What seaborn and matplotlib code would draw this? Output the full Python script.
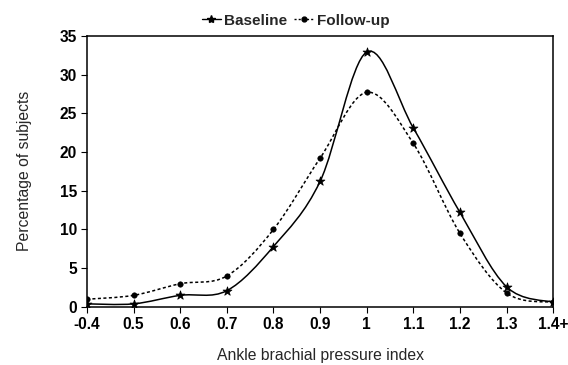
import numpy as np
import pandas as pd
import seaborn as sns
import matplotlib
matplotlib.use("Agg")
import matplotlib.pyplot as plt
from matplotlib.path import Path
from matplotlib.patches import PathPatch
from matplotlib.lines import Line2D

categories = ["-0.4", "0.5", "0.6", "0.7", "0.8", "0.9", "1", "1.1", "1.2", "1.3", "1.4+"]
baseline = [0.4, 0.4, 1.5, 2.1, 7.8, 16.2, 32.9, 23.1, 12.2, 2.6, 0.6]
followup = [1.0, 1.5, 3.0, 4.0, 10.0, 19.2, 27.7, 21.1, 9.5, 1.8, 0.6]
y_ticks = [0, 5, 10, 15, 20, 25, 30, 35]

sns.set_style("ticks")
plt.rcParams["font.family"] = ["Liberation Sans", "DejaVu Sans"]

df = pd.DataFrame({
    "pos": list(range(len(categories))) * 2,
    "value": baseline + followup,
    "series": ["Baseline"] * len(categories) + ["Follow-up"] * len(categories),
})

fig = plt.figure(figsize=(5.68, 3.65), dpi=100)
ax = fig.add_axes([0.153, 0.159, 0.821, 0.743])


def smooth_path(xs, ys):
    pts = np.column_stack([xs, ys]).astype(float)
    n = len(pts)
    verts = [pts[0]]
    codes = [Path.MOVETO]
    for i in range(n - 1):
        p0 = pts[i - 1] if i > 0 else pts[i]
        p1 = pts[i]
        p2 = pts[i + 1]
        p3 = pts[i + 2] if i + 2 < n else pts[i + 1]
        c1 = p1 + (p2 - p0) / 6.0
        c2 = p2 - (p3 - p1) / 6.0
        verts += [c1, c2, p2]
        codes += [Path.CURVE4] * 3
    return Path(verts, codes)


xs = np.arange(len(categories))
ax.add_patch(PathPatch(smooth_path(xs, baseline), fill=False, edgecolor="black",
                       linewidth=1.1, linestyle="-", zorder=2))
ax.add_patch(PathPatch(smooth_path(xs, followup), fill=False, edgecolor="black",
                       linewidth=1.1, linestyle=(0, (2, 1.6)), zorder=2))

sns.scatterplot(data=df[df.series == "Baseline"], x="pos", y="value", marker="*",
                s=45, color="black", edgecolor="black", ax=ax, legend=False, zorder=3)
sns.scatterplot(data=df[df.series == "Follow-up"], x="pos", y="value", marker="o",
                s=16, color="black", edgecolor="black", ax=ax, legend=False, zorder=3)

ax.set_xlim(0, len(categories) - 1)
ax.set_ylim(0, 35)
ax.set_xticks(xs)
ax.set_xticklabels(categories)
ax.set_yticks(y_ticks)
ax.set_yticklabels([str(t) for t in y_ticks])
ax.tick_params(axis="both", direction="out", length=4, width=0.8, labelsize=11.2, colors="black", pad=3)
for lab in ax.get_xticklabels() + ax.get_yticklabels():
    lab.set_fontweight("bold")

for s in ax.spines.values():
    s.set_visible(True)
    s.set_color("black")
    s.set_linewidth(1.1)

ax.set_xlabel("Ankle brachial pressure index", fontsize=11.3, labelpad=12)
ax.set_ylabel("Percentage of subjects", fontsize=11.3, labelpad=20)

handles = [
    Line2D([0], [0], color="black", lw=1.0, marker="*", markersize=6, linestyle="-"),
    Line2D([0], [0], color="black", lw=1.0, marker="o", markersize=3.5, linestyle=(0, (1.5, 1.5))),
]
fig.legend(handles, ["Baseline", "Follow-up"], loc="center", bbox_to_anchor=(0.52, 0.943),
           ncol=2, frameon=False, handlelength=1.3, handletextpad=0.15,
           columnspacing=0.5, prop={"weight": "bold", "size": 11})

fig.savefig("out.png", dpi=100)
